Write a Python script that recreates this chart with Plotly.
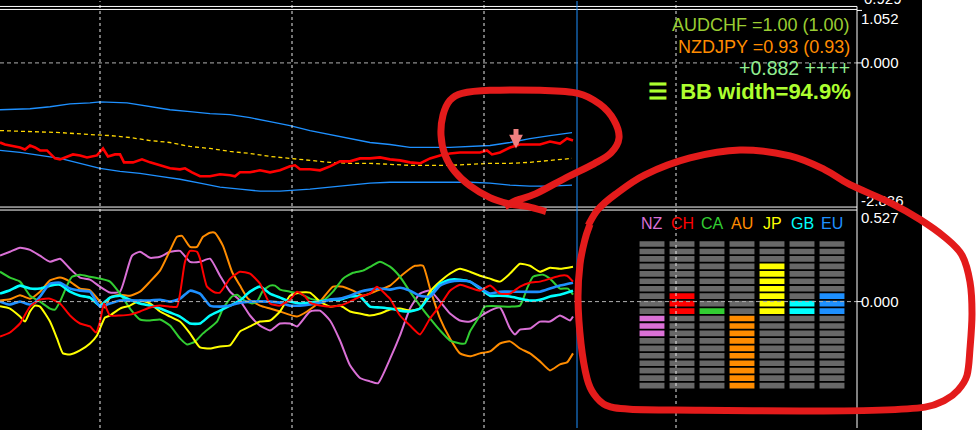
import plotly.graph_objects as go

W, H = 978, 430
PW = 857  # plot-area width in px (right price-scale starts here)

# ---------------- DATA ----------------
# Top pane: price (red) and Bollinger bands on a hidden price scale
price = [(0, .6866), (5, .6864), (15, .6862), (20, .6861), (25, .6859), (30, .6863), (35, .6861), (40, .6858),
         (47, .6858), (50, .6855), (55, .6850), (60, .6849), (67, .6852), (73, .6854), (80, .6853), (87, .6851),
         (97, .6853), (103, .6860), (108, .6852), (115, .6854), (120, .6854), (124, .6846), (133, .6846),
         (142, .6849), (150, .6846), (160, .6843), (170, .6840), (180, .6839), (185, .6840), (192, .6836),
         (200, .6832), (210, .6832), (220, .6834), (230, .6833), (235, .6832), (240, .6836), (250, .6836),
         (260, .6838), (270, .6836), (280, .6838), (290, .6842), (295, .6843), (300, .6839), (310, .6839),
         (320, .6838), (330, .6842), (340, .6847), (350, .6847), (360, .6850), (370, .6850), (380, .6851),
         (390, .6849), (400, .6848), (410, .6846), (420, .6845), (430, .6850), (440, .6853), (450, .6855),
         (460, .6856), (470, .6856), (480, .6856), (487, .6858), (492, .6854), (500, .6856), (510, .6861),
         (520, .6864), (530, .6864), (540, .6864), (550, .6867), (560, .6865), (567, .6870), (573, .6868)]
upper_band = [(0, .6899), (30, .6900), (50, .6902), (70, .6905), (90, .6906), (100, .6907), (127, .6906),
              (150, .6902), (170, .6899), (190, .6897), (210, .6895), (230, .6894), (250, .6891), (270, .6887),
              (290, .6883), (310, .6878), (330, .6874), (350, .6870), (370, .6866), (390, .6864), (410, .6861),
              (450, .6861), (470, .6862), (490, .6863), (510, .6866), (530, .6870), (550, .6873), (572, .6876)]
middle_band = [(0, .6878), (30, .6877), (60, .6876), (90, .6874), (110, .6873), (130, .6871), (150, .6868),
               (170, .6866), (190, .6862), (210, .6860), (230, .6857), (250, .6855), (270, .6852), (290, .6850),
               (310, .6848), (330, .6846), (350, .6845), (370, .6845), (390, .6844), (410, .6843), (450, .6843),
               (470, .6844), (490, .6845), (510, .6845), (530, .6846), (550, .6848), (572, .6850)]
lower_band = [(0, .6858), (20, .6856), (40, .6853), (60, .6850), (80, .6845), (100, .6840), (120, .6837),
              (140, .6835), (160, .6832), (180, .6829), (200, .6825), (220, .6821), (240, .6819), (260, .6817),
              (280, .6817), (300, .6818), (310, .6819), (330, .6821), (350, .6823), (370, .6825), (390, .6826),
              (410, .6826), (430, .6826), (450, .6826), (470, .6826), (490, .6825), (510, .6823), (530, .6822),
              (550, .6822), (572, .6823)]
signal_arrow = (516, .6860)

# Lower pane: currency strength lines
nz = [(0, .265), (10, .287), (20, .310), (30, .298), (40, .264), (50, .229), (60, .247), (70, .189), (80, .138),
      (90, .126), (100, .086), (110, .052), (120, .057), (132, .264), (140, .287), (150, .252), (160, .258),
      (170, .287), (180, .292), (190, .229), (200, .229), (210, .247), (220, .149), (230, .057), (240, .006),
      (250, -.080), (260, -.138), (270, -.166), (280, -.126), (290, -.126), (297, -.143), (310, -.057),
      (320, -.052), (330, -.109), (340, -.224), (350, -.367), (360, -.440), (370, -.459), (378, -.470),
      (390, -.330), (400, -.195), (410, -.040), (420, .046), (430, .063), (440, .000), (450, -.069),
      (460, -.109), (470, -.115), (480, -.086), (490, -.052), (500, -.034), (510, -.155), (515, -.189),
      (520, -.161), (530, -.155), (540, -.115), (550, -.115), (560, -.080), (570, -.109), (573, -.086)]
au = [(0, .007), (10, .013), (20, .036), (30, .017), (40, .057), (50, .122), (60, .138), (70, .115), (80, .075),
      (90, .065), (100, .000), (105, -.035), (110, .023), (120, .040), (130, .034), (140, .057), (150, .115),
      (160, .178), (170, .294), (177, .373), (182, .378), (190, .315), (197, .315), (203, .373), (210, .396),
      (215, .396), (223, .321), (232, .172), (240, .092), (248, .017), (260, -.023), (270, -.040), (280, -.057),
      (297, -.086), (307, -.057), (320, .000), (333, .086), (343, .086), (353, .063), (363, .034), (377, .063),
      (390, .092), (400, .143), (410, .189), (415, .206), (423, .206), (430, .075), (440, -.097), (450, -.212),
      (460, -.298), (470, -.315), (480, -.298), (490, -.287), (500, -.241), (510, -.229), (520, -.270),
      (530, -.298), (540, -.344), (550, -.396), (560, -.361), (567, -.350), (573, -.298)]
ca = [(0, .172), (10, .138), (20, .115), (30, .034), (40, .000), (50, -.040), (55, -.046), (60, .000),
      (67, .092), (72, .143), (80, .155), (90, .143), (100, .132), (110, .115), (120, .046), (130, -.040),
      (140, -.103), (150, -.109), (160, -.103), (170, -.138), (180, -.212), (187, -.247), (195, -.230),
      (203, -.183), (217, -.115), (223, -.040), (232, .029), (237, .040), (243, .011), (252, -.011),
      (257, .000), (263, .063), (270, .092), (275, .092), (280, .069), (290, .057), (300, .046), (310, .017),
      (323, .006), (333, .057), (343, .132), (353, .166), (363, .178), (372, .206), (380, .229), (390, .201),
      (400, .143), (410, .057), (420, -.023), (430, -.097), (440, -.166), (450, -.224), (460, -.241),
      (465, -.241), (470, -.172), (480, -.080), (485, -.029), (510, -.029), (520, -.023), (527, .075),
      (533, .143), (543, .155), (550, .132), (560, .075), (568, .075), (573, .040)]
jp = [(0, -.027), (10, -.040), (20, -.086), (25, -.115), (30, -.057), (35, -.023), (40, -.029), (50, -.115),
      (57, -.212), (63, -.298), (70, -.304), (80, -.281), (90, -.241), (97, -.195), (105, -.092), (110, -.080),
      (120, -.040), (130, -.023), (140, .006), (150, -.011), (160, -.057), (170, -.086), (180, -.115),
      (190, -.183), (200, -.264), (210, -.270), (220, -.258), (230, -.252), (240, -.172), (250, -.143),
      (260, -.115), (270, -.109), (280, -.057), (290, .034), (300, .052), (310, .052), (320, .000), (330, -.029),
      (340, -.023), (350, -.057), (360, -.069), (370, -.080), (380, -.069), (390, -.046), (400, -.040),
      (410, -.052), (420, -.040), (430, .057), (440, .115), (450, .161), (460, .189), (470, .172), (480, .149),
      (490, .132), (500, .115), (510, .161), (520, .218), (530, .206), (540, .172), (550, .195), (560, .189),
      (573, .201)]
gb = [(0, .046), (10, .065), (20, .092), (30, .075), (40, .075), (50, .092), (60, .097), (70, .057), (80, .034),
      (90, .023), (100, -.023), (110, .023), (120, .034), (130, .011), (140, -.011), (150, -.023), (160, -.040),
      (170, -.063), (180, -.086), (190, -.126), (200, -.126), (210, -.080), (220, -.052), (230, -.023),
      (240, .006), (250, .057), (260, .086), (270, .046), (280, .023), (290, .000), (300, -.011), (310, -.006),
      (320, .000), (330, .011), (340, .011), (350, .029), (360, .029), (370, -.029), (380, -.034), (390, -.040),
      (400, -.052), (410, -.057), (420, -.040), (430, .034), (440, .103), (450, .126), (460, .126), (470, .115),
      (480, .075), (490, .034), (500, .034), (510, .029), (520, .017), (530, .006), (540, .011), (550, .029),
      (560, .040), (573, .063)]
eu = [(0, .000), (10, -.017), (20, .000), (30, -.017), (35, -.006), (40, .029), (50, .103), (60, .109),
      (70, .075), (80, .063), (90, .057), (100, -.029), (110, -.011), (120, .006), (150, .006), (160, .011),
      (170, .000), (180, .017), (190, .063), (200, .046), (210, -.023), (220, -.029), (230, -.023), (240, -.006),
      (250, .000), (270, .000), (280, -.006), (290, -.023), (300, -.023), (310, -.017), (320, -.006), (330, .011),
      (340, .017), (350, .034), (360, .057), (370, .069), (380, .075), (390, .069), (400, .080), (410, .063),
      (420, .034), (430, .029), (440, .092), (450, .115), (460, .120), (470, .115), (480, .080), (490, .046),
      (500, .057), (540, .057), (550, .075), (560, .092), (573, .109)]
ch = [(0, -.201), (10, -.178), (20, -.126), (30, -.029), (40, .011), (50, .017), (60, -.011), (70, -.080),
      (80, -.126), (90, -.143), (96, -.178), (100, -.115), (104, -.011), (110, -.080), (120, -.080), (130, -.075),
      (140, -.057), (150, -.034), (160, -.023), (170, -.029), (177, -.029), (185, .229), (190, .292), (197, .287),
      (200, .247), (207, .086), (215, .052), (220, .052), (230, .132), (240, .172), (250, .161), (260, .103),
      (270, -.011), (280, -.023), (290, .011), (297, .057), (305, .029), (310, -.006), (320, -.023), (330, -.029),
      (340, -.023), (350, .000), (360, .029), (370, .046), (377, .086), (387, .034), (390, .017), (400, -.080),
      (410, -.138), (420, -.189), (430, -.097), (440, -.023), (450, .063), (460, .097), (470, .080), (480, .063),
      (490, .092), (500, .046), (510, .046), (520, .086), (530, .109), (540, .115), (550, .132), (560, .149),
      (567, .149), (573, .115)]

# Strength meter
currencies = ["NZ", "CH", "CA", "AU", "JP", "GB", "EU"]
strength = [-3, 3, 1, -10, 7, 2, 3]
colors = ["#DA70D6", "#FF0000", "#32CD32", "#FF8C00", "#FFFF00", "#00FFFF", "#1E90FF"]

# Info texts
info_lines = [("AUDCHF =1.00 (1.00)", "#9ACD32"), ("NZDJPY =0.93 (0.93)", "#FF8C00"),
              ("+0.882 ++++", "#90EE90")]
bb_text = "☰  BB width=94.9%"

grid_t = [100, 292, 484, 676]
vline_t = 577

# ---------------- FIGURE ----------------
FONT = "Liberation Sans, Arial, sans-serif"


def px(xp):
    return xp / PW


def py(yp):
    return 1 - yp / H


fig = go.Figure()

# top pane: bands and price
for series, col, dash, w in [(upper_band, "#1E90FF", "solid", 1.3), (lower_band, "#1E90FF", "solid", 1.3),
                             (middle_band, "#FFD700", "4px,3px", 1.3), (price, "#FF0000", "solid", 2.6)]:
    fig.add_trace(go.Scatter(x=[p[0] for p in series], y=[p[1] for p in series], mode="lines",
                             line=dict(color=col, width=w, dash=dash), xaxis="x", yaxis="y3",
                             hoverinfo="skip", showlegend=False))

# lower pane: currency lines
for series, col, w in [(nz, "#DA70D6", 2), (au, "#FF8C00", 2), (ca, "#32CD32", 2), (jp, "#FFFF00", 2),
                       (gb, "#00FFFF", 2.6), (eu, "#1E90FF", 2.6), (ch, "#FF0000", 2)]:
    fig.add_trace(go.Scatter(x=[p[0] for p in series], y=[p[1] for p in series], mode="lines",
                             line=dict(color=col, width=w, shape="spline", smoothing=0.5),
                             xaxis="x", yaxis="y2", hoverinfo="skip", showlegend=False))

# strength meter bars (segment levels -10..9)
bx, bbase, bcol = [], [], []
for lvl in range(-10, 10):
    for cur, s, c in zip(currencies, strength, colors):
        on = (s > 0 and 0 <= lvl < s) or (s < 0 and s <= lvl < 0)
        bx.append(cur)
        bbase.append(lvl + 0.12)
        bcol.append(c if on else "#686868")
fig.add_trace(go.Bar(x=bx, y=[0.76] * len(bx), base=bbase, width=0.83, marker=dict(color=bcol, line_width=0),
                     xaxis="x2", yaxis="y4", hoverinfo="skip", showlegend=False))

shapes = []
# white strip on the far right
shapes.append(dict(type="rect", xref="paper", yref="paper", x0=px(922), x1=px(980), y0=-0.01, y1=1.01,
                   fillcolor="white", line_width=0, layer="below"))
# vertical dashed grid
for t in grid_t:
    shapes.append(dict(type="line", xref="x", yref="paper", x0=t, x1=t, y0=0, y1=1,
                       line=dict(color="#E8E8E8", width=1, dash="3px,3px"), layer="above"))
# zero lines
for ax in ["y", "y2"]:
    shapes.append(dict(type="line", xref="paper", yref=ax, x0=0, x1=1, y0=0, y1=0,
                       line=dict(color="#B0B0B0", width=1, dash="4px,3px"), layer="above"))
    shapes.append(dict(type="line", xref="paper", yref=ax, x0=1, x1=px(862), y0=0, y1=0,
                       line=dict(color="white", width=1)))
# window separators
for yp in [5.5, 8.5, 207.5, 210.5]:
    shapes.append(dict(type="line", xref="paper", yref="paper", x0=0, x1=1, y0=py(yp), y1=py(yp),
                       line=dict(color="white", width=1)))
shapes.append(dict(type="line", xref="paper", yref="paper", x0=1, x1=px(862), y0=py(9.5), y1=py(9.5),
                   line=dict(color="white", width=1)))
# right axis line
shapes.append(dict(type="line", xref="paper", yref="paper", x0=1, x1=1, y0=0, y1=py(5.5),
                   line=dict(color="white", width=1)))
# blue vertical line
shapes.append(dict(type="line", xref="x", yref="paper", x0=vline_t, x1=vline_t, y0=0, y1=1,
                   line=dict(color="#1E90FF", width=1), layer="above"))


def smooth_path(pts):
    s = "M%.5f,%.5f" % (px(pts[0][0]), py(pts[0][1]))
    n = len(pts)
    for i in range(n - 1):
        p0 = pts[max(i - 1, 0)]
        p1 = pts[i]
        p2 = pts[i + 1]
        p3 = pts[min(i + 2, n - 1)]
        c1 = (p1[0] + (p2[0] - p0[0]) / 6, p1[1] + (p2[1] - p0[1]) / 6)
        c2 = (p2[0] - (p3[0] - p1[0]) / 6, p2[1] - (p3[1] - p1[1]) / 6)
        s += " C%.5f,%.5f %.5f,%.5f %.5f,%.5f" % (px(c1[0]), py(c1[1]), px(c2[0]), py(c2[1]),
                                                   px(p2[0]), py(p2[1]))
    return s


loop1 = [(546, 212), (528, 207), (508, 204), (490, 198), (470, 186), (455, 172), (445, 155), (441, 135),
         (443, 115), (450, 100), (462, 93), (490, 90), (540, 90), (578, 93), (600, 104), (614, 120), (619, 138),
         (611, 153), (594, 164), (566, 178), (536, 194), (516, 201), (505, 207)]
loop2 = [(588, 226), (598, 210), (615, 195), (645, 175), (690, 158), (740, 150), (790, 156), (825, 170),
         (850, 185), (890, 203), (920, 220), (945, 238), (962, 256), (970, 283), (972, 315), (970, 350),
         (967, 377), (958, 392), (945, 402), (925, 409), (880, 412), (800, 413), (700, 412), (630, 411),
         (606, 407), (594, 396), (587, 380), (581, 345), (578, 300), (580, 265), (585, 240), (590, 225)]
for lp in [loop1, loop2]:
    shapes.append(dict(type="path", xref="paper", yref="paper", path=smooth_path(lp),
                       line=dict(color="#E31B1B", width=7), layer="above"))

annotations = []
for (txt, col), yp, fs in zip(info_lines, [24.5, 46, 67.5], [18, 18, 19.5]):
    annotations.append(dict(xref="paper", yref="paper", x=px(852), y=py(yp), text=txt, showarrow=False,
                            xanchor="right", yanchor="middle", font=dict(family=FONT, size=fs, color=col)))
annotations.append(dict(xref="paper", yref="paper", x=px(853), y=py(91.5), text="<b>" + bb_text + "</b>",
                        showarrow=False, xanchor="right", yanchor="middle",
                        font=dict(family=FONT, size=22, color="#ADFF2F")))
for cur, c in zip(currencies, colors):
    annotations.append(dict(xref="x2", yref="paper", x=cur, y=py(224.5), text=cur, showarrow=False,
                            xanchor="center", yanchor="middle", font=dict(family=FONT, size=16, color=c)))
annotations.append(dict(xref="paper", yref="paper", x=px(862), y=py(-3), text="0.929", showarrow=False,
                        xanchor="left", yanchor="middle", font=dict(family=FONT, size=15, color="white")))
annotations.append(dict(xref="x", yref="y3", x=signal_arrow[0], y=signal_arrow[1], ax=0, ay=-21, text="",
                        showarrow=True, arrowhead=2, arrowsize=0.55, arrowwidth=5, arrowcolor="#F08080",
                        standoff=0))

fig.update_layout(
    width=W, height=H, margin=dict(l=0, r=W - PW, t=0, b=0),
    paper_bgcolor="black", plot_bgcolor="black", showlegend=False, barmode="overlay",
    xaxis=dict(domain=[0, 1], range=[0, PW], visible=False, anchor="y2"),
    yaxis=dict(domain=[py(207.5), py(8.5)], range=[-2.836, 1.052], side="right", anchor="x",
               tickvals=[0.875, 0, -2.710], ticktext=["1.052", "0.000", "-2.836"], ticks="",
               ticklabelstandoff=3, showgrid=False, zeroline=False,
               tickfont=dict(family=FONT, size=15, color="white")),
    yaxis2=dict(domain=[0, py(210.5)], range=[-0.7275, 0.527], side="right", anchor="x",
                tickvals=[0.481, 0, -0.699], ticktext=["0.527", "0.000", "-0.746"], ticks="",
                ticklabelstandoff=3, showgrid=False, zeroline=False,
                tickfont=dict(family=FONT, size=15, color="white")),
    yaxis3=dict(overlaying="y", range=[0.6801, 0.7000], visible=False),
    xaxis2=dict(domain=[px(637), px(847)], type="category", categoryorder="array", categoryarray=currencies,
                range=[-0.5, 6.5], visible=False, anchor="y4"),
    yaxis4=dict(domain=[py(391), py(241)], range=[-10, 10], visible=False, anchor="x2"),
    shapes=shapes, annotations=annotations,
)

fig.write_html("out.html", config={"displayModeBar": False},
               post_script="document.body.style.margin='0';document.body.style.overflow='hidden';")
